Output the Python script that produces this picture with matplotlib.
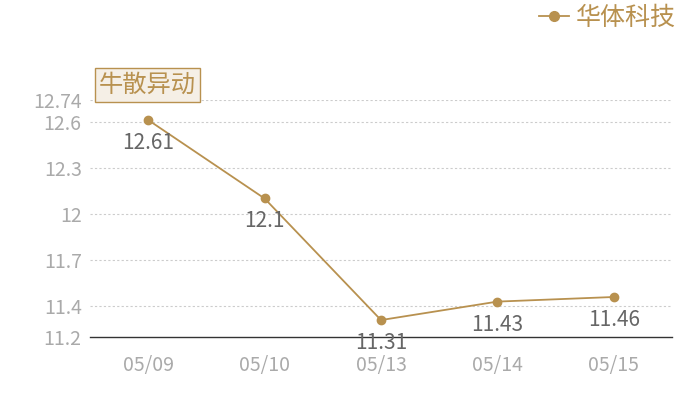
import matplotlib
matplotlib.use("Agg")
import matplotlib.pyplot as plt
from matplotlib.lines import Line2D

plt.rcParams['font.family'] = ['Noto Sans CJK SC', 'DejaVu Sans']

dates = ["05/09", "05/10", "05/13", "05/14", "05/15"]
prices = [12.61, 12.1, 11.31, 11.43, 11.46]
yticks = [11.2, 11.4, 11.7, 12, 12.3, 12.6, 12.74]
ytick_labels = ["11.2", "11.4", "11.7", "12", "12.3", "12.6", "12.74"]
series_name = "华体科技"
badge = "牛散异动"

gold = "#b8914f"
fig = plt.figure(figsize=(7, 4), dpi=100)
ax = fig.add_axes([90/700, 63/400, 582/700, 237/400])

x = list(range(len(dates)))
ax.plot(x, prices, color=gold, lw=1.3, marker='o', ms=6, mec=gold, mfc=gold, zorder=3)
for xi, v in zip(x, prices):
    ax.annotate(f"{v:g}", (xi, v), xytext=(0, -16.5), textcoords='offset points',
                ha='center', va='center', fontsize=15, color='#666666')

ax.set_xlim(-0.5, len(dates) - 0.5)
ax.set_ylim(11.2, 12.74)
ax.set_yticks(yticks)
ax.set_yticklabels(ytick_labels)
ax.set_xticks(x)
ax.set_xticklabels(dates)
ax.tick_params(axis='both', length=0, labelsize=14, colors='#aaaaaa')
ax.tick_params(axis='x', pad=13)
ax.tick_params(axis='y', pad=6)
for yv in yticks[1:]:
    ax.axhline(yv, color='#cccccc', lw=0.8, ls=(0, (2, 2)), zorder=1)
for s in ['top', 'right', 'left']:
    ax.spines[s].set_visible(False)
ax.spines['bottom'].set_color('#333333')
ax.spines['bottom'].set_linewidth(1)

fig.text(147.5/700, 1 - 85/400, badge, ha='center', va='center', fontsize=17.5, color=gold,
         bbox=dict(boxstyle='square,pad=0.18', fc='#f5efe6', ec=gold, lw=1))

handle = Line2D([], [], color=gold, lw=1.3, marker='o', ms=7, mfc=gold, mec=gold)
leg = fig.legend([handle], [series_name], loc='center right', bbox_to_anchor=(686/700, 1 - 18/400),
                 frameon=False, fontsize=18, handlelength=1.2, handletextpad=0.3, borderaxespad=0)
for t in leg.get_texts():
    t.set_color(gold)

fig.savefig("out.png", dpi=100)
